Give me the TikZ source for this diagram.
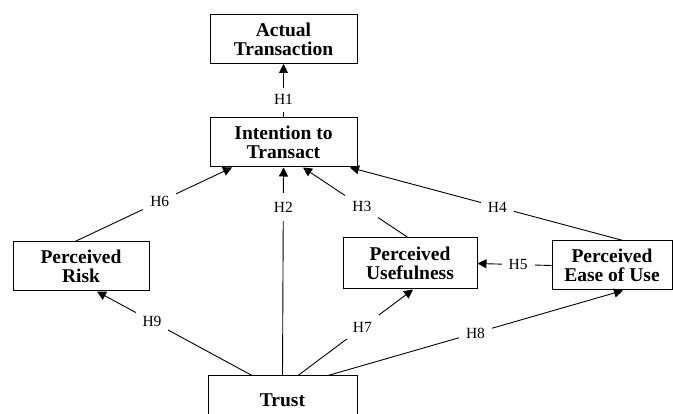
\documentclass[tikz,border=0pt]{standalone}
\usepackage{fontspec}
\setmainfont{Liberation Serif}
\usetikzlibrary{arrows.meta,positioning}

\begin{document}
\begin{tikzpicture}[x=1pt, y=-1pt,
  box/.style={draw, line width=1pt, minimum height=49pt, align=center, inner sep=1pt, font=\fontsize{19.5}{19}\selectfont\bfseries},
  arr/.style={-{Triangle[length=9pt,width=9pt]}, line width=0.9pt},
  hyp/.style={fill=white, inner sep=7pt, font=\fontsize{15.5}{16}\selectfont}
]
\clip (0,0) rectangle (673,414);
\node[box, minimum width=147pt] (act) at (283.5,39) {Actual\\Transaction};
\node[box, minimum width=147pt] (int) at (283.5,142.5) {Intention to\\Transact};
\node[box, minimum width=136pt] (risk) at (81,266.5) {Perceived\\Risk};
\node[box, minimum width=134pt, minimum height=51pt] (use) at (410,263.5) {Perceived\\Usefulness};
\node[box, minimum width=120pt] (ease) at (612,265.5) {Perceived\\Ease of Use};
\node[box, minimum width=149pt] (trust) at (282.5,400.5) {Trust};
\draw[arr] (int.north) -- node[hyp, pos=0.33]{H1} (act.south);
\draw[arr] (trust.north) -- node[hyp, pos=0.81, inner sep=9pt]{H2} (int.south);
\draw[arr] ([xshift=-2pt]use.north) -- node[hyp, pos=0.44]{H3} ([xshift=19.5pt]int.south);
\draw[arr] ([xshift=11pt]ease.north) -- node[hyp, pos=0.46]{H4} ([xshift=66.5pt]int.south);
\draw[arr] (ease.west) -- node[hyp, pos=0.45]{H5} (use.east);
\draw[arr] ([xshift=-6pt]risk.north) -- node[hyp, pos=0.54]{H6} ([xshift=-51.5pt]int.south);
\draw[arr] ([xshift=15.5pt]trust.north) -- node[hyp, pos=0.56]{H7} ([xshift=3pt]use.south);
\draw[arr] ([xshift=45.5pt]trust.north) -- node[hyp, pos=0.5]{H8} ([xshift=11pt]ease.south);
\draw[arr] ([xshift=-30.5pt]trust.north) -- node[hyp, pos=0.645]{H9} ([xshift=16pt]risk.south);
\end{tikzpicture}
\end{document}
